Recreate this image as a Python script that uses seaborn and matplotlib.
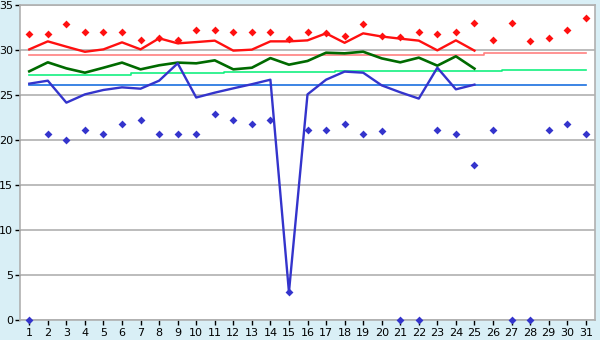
import numpy as np
import pandas as pd
import seaborn as sns
import matplotlib.pyplot as plt

days = list(range(1, 32))

# daily extremes (markers)
max_temp = [31.8, 31.8, 32.9, 32.0, 32.0, 32.0, 31.1, 31.3, 31.1, 32.2,
            32.2, 32.0, 32.0, 32.0, 31.2, 32.0, 31.85, 31.6, 32.9, 31.55,
            31.4, 32.0, 31.75, 32.0, 32.95, 31.1, 32.95, 31.0, 31.3, 32.2, 33.6]
min_temp = [0.0, 20.65, 20.0, 21.1, 20.65, 21.75, 22.2, 20.65, 20.65, 20.65,
            22.85, 22.2, 21.75, 22.2, 3.1, 21.1, 21.1, 21.75, 20.65, 20.95,
            0.0, 0.0, 21.1, 20.65, 17.2, 21.1, 0.0, 0.0, 21.1, 21.75, 20.65]

# running lines (days 1-25)
line_days = list(range(1, 26))
max_line = [30.07, 30.96, 30.37, 29.8, 30.07, 30.85, 30.07, 31.3, 30.74, 30.88,
            31.04, 29.93, 30.04, 30.96, 30.96, 31.07, 31.85, 30.8, 31.85, 31.5,
            31.26, 31.04, 29.96, 31.07, 29.93]
avg_line = [27.63, 28.63, 27.96, 27.48, 28.03, 28.6, 27.85, 28.3, 28.6, 28.52,
            28.85, 27.85, 28.03, 29.1, 28.37, 28.78, 29.7, 29.63, 29.81, 29.07,
            28.63, 29.15, 28.26, 29.3, 27.93]
min_line = [26.26, 26.59, 24.15, 25.07, 25.56, 25.85, 25.7, 26.59, 28.52, 24.72,
            25.26, 25.74, 26.2, 26.7, 3.1, 25.07, 26.7, 27.6, 27.48, 26.07,
            25.3, 24.6, 28.03, 25.63, 26.15]

# normals
max_norm = [29.41] * 25 + [29.63] * 6
avg_norm = [27.19] * 6 + [27.41] * 5 + [27.56] * 6 + [27.67] * 9 + [27.78] * 5
min_norm = [26.07] * 31

bg = '#d9eff6'
fig = plt.figure(figsize=(6, 3.4), dpi=100, facecolor=bg)
ax = fig.add_axes([20 / 600, 1 - 320 / 340, 575 / 600, 315 / 340])
ax.set_facecolor('white')

norm_df = pd.DataFrame({'day': days, 'max': max_norm, 'avg': avg_norm, 'min': min_norm})
ax.plot(norm_df['day'], norm_df['max'], drawstyle='steps-mid', color='#ff8080', lw=1.2)
ax.plot(norm_df['day'], norm_df['avg'], drawstyle='steps-mid', color='#14f080', lw=1.2)
ax.plot(norm_df['day'], norm_df['min'], drawstyle='steps-mid', color='#1a6fdf', lw=1.2)

line_df = pd.DataFrame({'day': line_days, 'max': max_line, 'avg': avg_line, 'min': min_line})
sns.lineplot(data=line_df, x='day', y='max', color='#ff1010', lw=1.7, ax=ax)
sns.lineplot(data=line_df, x='day', y='avg', color='#006a00', lw=1.9, ax=ax)
sns.lineplot(data=line_df, x='day', y='min', color='#3434cc', lw=1.7, ax=ax)

pt_df = pd.DataFrame({'day': days, 'max': max_temp, 'min': min_temp})
sns.scatterplot(data=pt_df, x='day', y='max', color='#ff1010', marker='D', s=16,
                linewidth=0, ax=ax, zorder=5, clip_on=False)
sns.scatterplot(data=pt_df, x='day', y='min', color='#3434cc', marker='D', s=16,
                linewidth=0, ax=ax, zorder=5, clip_on=False)

ax.set_xlim(0.5, 31.5)
ax.set_ylim(0, 35)
ax.set_xticks(days)
ax.set_yticks(np.arange(0, 36, 5))
ax.yaxis.grid(True, color='#b0b0b0', lw=1.2)
ax.set_axisbelow(True)
for s in ax.spines.values():
    s.set_color('#b0b0b0')
    s.set_linewidth(1.2)
ax.tick_params(axis='both', colors='black', labelsize=8, length=3.5, width=1)
ax.tick_params(axis='y', pad=1.5)
ax.tick_params(axis='x', pad=2)
ax.set_xlabel('')
ax.set_ylabel('')

plt.savefig('out.png', dpi=100, facecolor=bg)
